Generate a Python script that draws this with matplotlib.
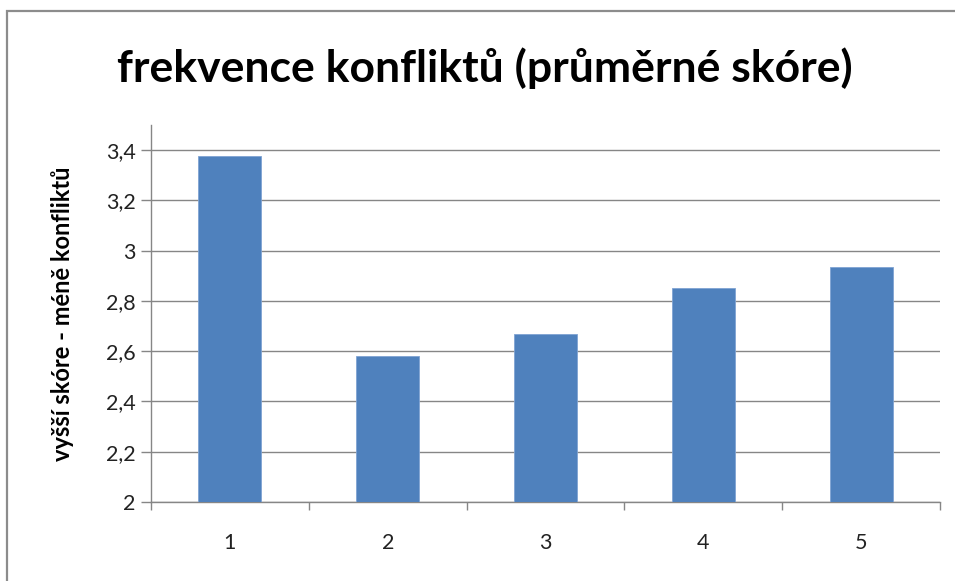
import matplotlib
matplotlib.use("Agg")
import matplotlib.pyplot as plt
from matplotlib.patches import Rectangle

categories = ["1", "2", "3", "4", "5"]
values = [3.377, 2.582, 2.667, 2.850, 2.934]
yticks = [2.0, 2.2, 2.4, 2.6, 2.8, 3.0, 3.2, 3.4]
ytick_labels = ["2", "2,2", "2,4", "2,6", "2,8", "3", "3,2", "3,4"]
title = "frekvence konfliktů (průměrné skóre)"
ylabel = "vyšší skóre - méně konfliktů"

plt.rcParams['font.family'] = ['Lato', 'DejaVu Sans']

W, H = 955, 581
fig = plt.figure(figsize=(W / 100, H / 100), dpi=100)
fig.patch.set_facecolor("white")

# outer chart border (only left/top visible in the crop)
fig.patches.append(Rectangle((7 / W, -0.1), 1.2, 1 - 11 / H + 0.1, transform=fig.transFigure,
                             fill=False, edgecolor="#8c8c8c", linewidth=1.6))

ax = fig.add_axes([151 / W, 1 - 502 / H, (940 - 151) / W, (502 - 125) / H])
x = list(range(len(categories)))
ax.bar(x, [v - 2.0 for v in values], bottom=2.0, width=0.4, color="#4F81BD",
       edgecolor="#7FA3D3", linewidth=0.6, zorder=3)
ax.set_xlim(-0.5, len(categories) - 0.5)
ax.set_ylim(2.0, 3.5)
ax.set_yticks(yticks)
ax.set_yticklabels(ytick_labels, fontsize=15.5, color="#222222")
ax.set_xticks(x)
ax.set_xticklabels(categories, fontsize=15.5, color="#222222")
ax.set_xticks([i - 0.5 for i in range(len(categories) + 1)], minor=True)
ax.tick_params(axis="x", which="major", length=0, pad=22)
ax.tick_params(axis="x", which="minor", length=6, color="#868686", width=1)
ax.tick_params(axis="y", length=7, color="#868686", width=1, pad=4, direction="out")
ax.grid(axis="y", color="#868686", linewidth=1, zorder=1)
for s in ["top", "right"]:
    ax.spines[s].set_visible(False)
for s in ["left", "bottom"]:
    ax.spines[s].set_color("#868686")
    ax.spines[s].set_linewidth(1)

fig.text(485 / W, 1 - 68 / H, title, fontsize=32, fontweight="bold", ha="center", va="center")
fig.text(62 / W, 1 - 314 / H, ylabel, fontsize=17, fontweight="bold", rotation=90,
         ha="center", va="center")

fig.savefig("out.png", dpi=100, facecolor="white")
